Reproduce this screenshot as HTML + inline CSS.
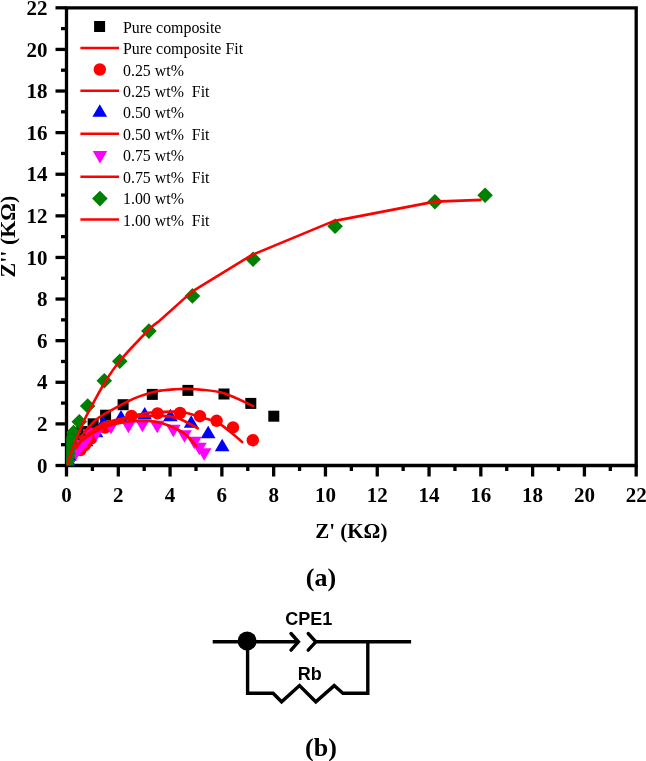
<!DOCTYPE html>
<html><head><meta charset="utf-8"><title>Nyquist plot</title>
<style>
html,body{margin:0;padding:0;background:#fff;}
body{width:646px;height:761px;overflow:hidden;}
svg{display:block;}
.tk{font-family:"Liberation Serif","Times New Roman",serif;font-weight:bold;font-size:21px;fill:#000;}
.cap{font-family:"Liberation Serif","Times New Roman",serif;font-weight:bold;font-size:26px;fill:#000;}
.lg{font-family:"Liberation Serif","Times New Roman",serif;font-size:15.9px;fill:#000;white-space:pre;}
.cl{font-family:"Liberation Sans",Arial,sans-serif;font-weight:bold;font-size:18px;fill:#000;}
</style></head>
<body>
<svg width="646" height="761" viewBox="0 0 646 761">
<g id="axes">
<path d="M66.5,7.8 H636.2 V465.5 H66.5 Z" stroke="#000" stroke-width="3.3" fill="none" stroke-linejoin="miter"/>
<line x1="66.50" y1="465.5" x2="66.50" y2="476.5" stroke="#000" stroke-width="3.3" fill="none"/>
<line x1="55.5" y1="465.50" x2="66.5" y2="465.50" stroke="#000" stroke-width="3.3" fill="none"/>
<line x1="92.40" y1="465.5" x2="92.40" y2="471.0" stroke="#000" stroke-width="3.3" fill="none"/>
<line x1="61.0" y1="444.70" x2="66.5" y2="444.70" stroke="#000" stroke-width="3.3" fill="none"/>
<line x1="118.29" y1="465.5" x2="118.29" y2="476.5" stroke="#000" stroke-width="3.3" fill="none"/>
<line x1="55.5" y1="423.89" x2="66.5" y2="423.89" stroke="#000" stroke-width="3.3" fill="none"/>
<line x1="144.19" y1="465.5" x2="144.19" y2="471.0" stroke="#000" stroke-width="3.3" fill="none"/>
<line x1="61.0" y1="403.09" x2="66.5" y2="403.09" stroke="#000" stroke-width="3.3" fill="none"/>
<line x1="170.08" y1="465.5" x2="170.08" y2="476.5" stroke="#000" stroke-width="3.3" fill="none"/>
<line x1="55.5" y1="382.28" x2="66.5" y2="382.28" stroke="#000" stroke-width="3.3" fill="none"/>
<line x1="195.98" y1="465.5" x2="195.98" y2="471.0" stroke="#000" stroke-width="3.3" fill="none"/>
<line x1="61.0" y1="361.48" x2="66.5" y2="361.48" stroke="#000" stroke-width="3.3" fill="none"/>
<line x1="221.87" y1="465.5" x2="221.87" y2="476.5" stroke="#000" stroke-width="3.3" fill="none"/>
<line x1="55.5" y1="340.67" x2="66.5" y2="340.67" stroke="#000" stroke-width="3.3" fill="none"/>
<line x1="247.77" y1="465.5" x2="247.77" y2="471.0" stroke="#000" stroke-width="3.3" fill="none"/>
<line x1="61.0" y1="319.87" x2="66.5" y2="319.87" stroke="#000" stroke-width="3.3" fill="none"/>
<line x1="273.66" y1="465.5" x2="273.66" y2="476.5" stroke="#000" stroke-width="3.3" fill="none"/>
<line x1="55.5" y1="299.06" x2="66.5" y2="299.06" stroke="#000" stroke-width="3.3" fill="none"/>
<line x1="299.56" y1="465.5" x2="299.56" y2="471.0" stroke="#000" stroke-width="3.3" fill="none"/>
<line x1="61.0" y1="278.26" x2="66.5" y2="278.26" stroke="#000" stroke-width="3.3" fill="none"/>
<line x1="325.45" y1="465.5" x2="325.45" y2="476.5" stroke="#000" stroke-width="3.3" fill="none"/>
<line x1="55.5" y1="257.45" x2="66.5" y2="257.45" stroke="#000" stroke-width="3.3" fill="none"/>
<line x1="351.35" y1="465.5" x2="351.35" y2="471.0" stroke="#000" stroke-width="3.3" fill="none"/>
<line x1="61.0" y1="236.65" x2="66.5" y2="236.65" stroke="#000" stroke-width="3.3" fill="none"/>
<line x1="377.25" y1="465.5" x2="377.25" y2="476.5" stroke="#000" stroke-width="3.3" fill="none"/>
<line x1="55.5" y1="215.85" x2="66.5" y2="215.85" stroke="#000" stroke-width="3.3" fill="none"/>
<line x1="403.14" y1="465.5" x2="403.14" y2="471.0" stroke="#000" stroke-width="3.3" fill="none"/>
<line x1="61.0" y1="195.04" x2="66.5" y2="195.04" stroke="#000" stroke-width="3.3" fill="none"/>
<line x1="429.04" y1="465.5" x2="429.04" y2="476.5" stroke="#000" stroke-width="3.3" fill="none"/>
<line x1="55.5" y1="174.24" x2="66.5" y2="174.24" stroke="#000" stroke-width="3.3" fill="none"/>
<line x1="454.93" y1="465.5" x2="454.93" y2="471.0" stroke="#000" stroke-width="3.3" fill="none"/>
<line x1="61.0" y1="153.43" x2="66.5" y2="153.43" stroke="#000" stroke-width="3.3" fill="none"/>
<line x1="480.83" y1="465.5" x2="480.83" y2="476.5" stroke="#000" stroke-width="3.3" fill="none"/>
<line x1="55.5" y1="132.63" x2="66.5" y2="132.63" stroke="#000" stroke-width="3.3" fill="none"/>
<line x1="506.72" y1="465.5" x2="506.72" y2="471.0" stroke="#000" stroke-width="3.3" fill="none"/>
<line x1="61.0" y1="111.82" x2="66.5" y2="111.82" stroke="#000" stroke-width="3.3" fill="none"/>
<line x1="532.62" y1="465.5" x2="532.62" y2="476.5" stroke="#000" stroke-width="3.3" fill="none"/>
<line x1="55.5" y1="91.02" x2="66.5" y2="91.02" stroke="#000" stroke-width="3.3" fill="none"/>
<line x1="558.51" y1="465.5" x2="558.51" y2="471.0" stroke="#000" stroke-width="3.3" fill="none"/>
<line x1="61.0" y1="70.21" x2="66.5" y2="70.21" stroke="#000" stroke-width="3.3" fill="none"/>
<line x1="584.41" y1="465.5" x2="584.41" y2="476.5" stroke="#000" stroke-width="3.3" fill="none"/>
<line x1="55.5" y1="49.41" x2="66.5" y2="49.41" stroke="#000" stroke-width="3.3" fill="none"/>
<line x1="610.30" y1="465.5" x2="610.30" y2="471.0" stroke="#000" stroke-width="3.3" fill="none"/>
<line x1="61.0" y1="28.60" x2="66.5" y2="28.60" stroke="#000" stroke-width="3.3" fill="none"/>
<line x1="636.20" y1="465.5" x2="636.20" y2="476.5" stroke="#000" stroke-width="3.3" fill="none"/>
<line x1="55.5" y1="7.80" x2="66.5" y2="7.80" stroke="#000" stroke-width="3.3" fill="none"/>
</g>
<defs><clipPath id="pc"><rect x="66.5" y="7.8" width="569.7" height="457.7"/></clipPath></defs>
<g id="data" clip-path="url(#pc)">
<rect x="66.5" y="441.5" width="11" height="11" fill="#000"/>
<rect x="71.0" y="434.5" width="11" height="11" fill="#000"/>
<rect x="76.3" y="426.0" width="11" height="11" fill="#000"/>
<rect x="87.6" y="418.3" width="11" height="11" fill="#000"/>
<rect x="100.1" y="409.7" width="11" height="11" fill="#000"/>
<rect x="117.6" y="399.2" width="11" height="11" fill="#000"/>
<rect x="146.8" y="388.9" width="11" height="11" fill="#000"/>
<rect x="182.4" y="384.9" width="11" height="11" fill="#000"/>
<rect x="218.5" y="388.5" width="11" height="11" fill="#000"/>
<rect x="245.3" y="397.9" width="11" height="11" fill="#000"/>
<rect x="268.3" y="410.7" width="11" height="11" fill="#000"/>
<polygon points="68.0,452.7 75.3,465.3 60.6,465.3" fill="#00f"/>
<polygon points="69.5,448.2 76.8,460.8 62.1,460.8" fill="#00f"/>
<polygon points="72.5,443.2 79.8,455.8 65.2,455.8" fill="#00f"/>
<polygon points="76.0,439.7 83.3,452.3 68.7,452.3" fill="#00f"/>
<polygon points="80.0,436.7 87.3,449.3 72.7,449.3" fill="#00f"/>
<polygon points="86.0,433.7 93.3,446.3 78.7,446.3" fill="#00f"/>
<polygon points="89.3,427.2 96.6,439.8 82.0,439.8" fill="#00f"/>
<polygon points="96.0,424.7 103.3,437.3 88.7,437.3" fill="#00f"/>
<polygon points="103.4,415.7 110.8,428.3 96.1,428.3" fill="#00f"/>
<polygon points="121.0,410.0 128.3,422.6 113.7,422.6" fill="#00f"/>
<polygon points="144.7,406.9 152.0,419.5 137.3,419.5" fill="#00f"/>
<polygon points="170.3,408.7 177.7,421.3 163.0,421.3" fill="#00f"/>
<polygon points="191.2,415.2 198.5,427.8 183.8,427.8" fill="#00f"/>
<polygon points="208.2,425.7 215.5,438.3 200.8,438.3" fill="#00f"/>
<polygon points="222.2,438.7 229.5,451.3 214.8,451.3" fill="#00f"/>
<circle cx="80.5" cy="450.0" r="6.2" fill="#f00"/>
<circle cx="85.0" cy="445.0" r="6.2" fill="#f00"/>
<circle cx="91.0" cy="438.5" r="6.2" fill="#f00"/>
<circle cx="105.0" cy="427.5" r="6.2" fill="#f00"/>
<circle cx="131.5" cy="416.0" r="6.2" fill="#f00"/>
<circle cx="157.5" cy="413.4" r="6.2" fill="#f00"/>
<circle cx="180.0" cy="413.0" r="6.2" fill="#f00"/>
<circle cx="199.9" cy="416.2" r="6.2" fill="#f00"/>
<circle cx="216.6" cy="420.8" r="6.2" fill="#f00"/>
<circle cx="233.0" cy="427.4" r="6.2" fill="#f00"/>
<circle cx="252.8" cy="440.2" r="6.2" fill="#f00"/>
<polygon points="68.7,447.7 83.3,447.7 76.0,460.3" fill="#f0f"/>
<polygon points="71.7,443.7 86.3,443.7 79.0,456.3" fill="#f0f"/>
<polygon points="74.7,439.7 89.3,439.7 82.0,452.3" fill="#f0f"/>
<polygon points="78.2,435.7 92.9,435.7 85.6,448.3" fill="#f0f"/>
<polygon points="82.2,429.2 96.8,429.2 89.5,441.8" fill="#f0f"/>
<polygon points="89.4,427.8 104.0,427.8 96.7,440.4" fill="#f0f"/>
<polygon points="103.7,421.7 118.3,421.7 111.0,434.3" fill="#f0f"/>
<polygon points="121.1,420.7 135.8,420.7 128.4,433.3" fill="#f0f"/>
<polygon points="135.1,419.7 149.8,419.7 142.4,432.3" fill="#f0f"/>
<polygon points="149.8,420.7 164.5,420.7 157.2,433.3" fill="#f0f"/>
<polygon points="166.0,424.7 180.7,424.7 173.3,437.3" fill="#f0f"/>
<polygon points="177.2,430.2 191.8,430.2 184.5,442.8" fill="#f0f"/>
<polygon points="187.0,436.7 201.7,436.7 194.3,449.3" fill="#f0f"/>
<polygon points="192.0,442.7 206.7,442.7 199.3,455.3" fill="#f0f"/>
<polygon points="196.8,448.2 211.5,448.2 204.2,460.8" fill="#f0f"/>
<polygon points="67.2,457.7 75.0,465.5 67.2,473.3 59.4,465.5" fill="#008000"/>
<polygon points="67.4,453.7 75.2,461.5 67.4,469.3 59.6,461.5" fill="#008000"/>
<polygon points="67.7,449.7 75.5,457.5 67.7,465.3 59.9,457.5" fill="#008000"/>
<polygon points="68.0,445.7 75.8,453.5 68.0,461.3 60.2,453.5" fill="#008000"/>
<polygon points="68.3,441.7 76.1,449.5 68.3,457.3 60.5,449.5" fill="#008000"/>
<polygon points="68.8,437.7 76.6,445.5 68.8,453.3 61.0,445.5" fill="#008000"/>
<polygon points="69.8,434.2 77.6,442.0 69.8,449.8 62.0,442.0" fill="#008000"/>
<polygon points="71.0,430.7 78.8,438.5 71.0,446.3 63.2,438.5" fill="#008000"/>
<polygon points="73.6,424.7 81.4,432.5 73.6,440.3 65.8,432.5" fill="#008000"/>
<polygon points="79.3,414.0 87.1,421.8 79.3,429.6 71.5,421.8" fill="#008000"/>
<polygon points="87.7,398.2 95.5,406.0 87.7,413.8 79.9,406.0" fill="#008000"/>
<polygon points="104.3,372.9 112.1,380.7 104.3,388.5 96.5,380.7" fill="#008000"/>
<polygon points="119.8,353.5 127.6,361.3 119.8,369.1 112.0,361.3" fill="#008000"/>
<polygon points="148.9,323.3 156.7,331.1 148.9,338.9 141.1,331.1" fill="#008000"/>
<polygon points="192.4,288.1 200.2,295.9 192.4,303.7 184.6,295.9" fill="#008000"/>
<polygon points="253.1,251.4 260.9,259.2 253.1,267.0 245.3,259.2" fill="#008000"/>
<polygon points="335.1,218.4 342.9,226.2 335.1,234.0 327.3,226.2" fill="#008000"/>
<polygon points="434.9,194.0 442.7,201.8 434.9,209.6 427.1,201.8" fill="#008000"/>
<polygon points="485.1,187.5 492.9,195.3 485.1,203.1 477.3,195.3" fill="#008000"/>
<path d="M79.0,438.5 C79.6,437.9 80.9,436.7 82.5,434.8 C84.1,432.9 86.0,430.1 88.6,427.3 C91.2,424.6 94.0,421.2 97.9,418.3 C101.8,415.4 107.5,412.4 112.0,409.8 C116.5,407.2 120.5,405.0 125.0,402.8 C129.6,400.6 134.0,398.3 139.3,396.4 C144.7,394.5 151.2,392.4 157.1,391.2 C163.0,390.0 169.7,389.6 175.0,389.2 C180.3,388.8 184.9,388.8 189.1,388.9 C193.3,389.0 194.2,388.9 200.0,389.6 C205.8,390.3 215.0,390.5 224.0,393.3 C233.0,396.1 249.2,404.3 254.2,406.5" fill="none" stroke="#f00" stroke-width="2.6" stroke-linejoin="round" stroke-linecap="butt"/>
<path d="M75.5,447.5 C76.2,446.5 78.2,443.6 80.0,441.6 C81.8,439.7 84.0,437.7 86.0,435.8 C88.0,433.9 89.7,432.2 92.0,430.5 C94.3,428.8 97.7,426.8 100.0,425.5 C102.3,424.2 102.2,423.8 106.0,422.6 C109.8,421.4 117.2,419.7 122.9,418.3 C128.6,416.9 134.8,415.3 140.0,414.3 C145.2,413.3 147.7,412.7 154.4,412.3 C161.1,411.9 173.2,411.3 180.0,411.8 C186.8,412.3 189.0,413.8 195.0,415.5 C201.0,417.2 210.1,419.1 215.9,421.8 C221.7,424.5 225.3,428.0 229.8,431.5 C234.3,435.0 240.8,440.8 243.0,442.7" fill="none" stroke="#f00" stroke-width="2.6" stroke-linejoin="round" stroke-linecap="butt"/>
<path d="M75.5,448.0 C76.2,447.0 78.2,444.0 80.0,442.2 C81.8,440.4 83.9,438.6 86.0,437.0 C88.1,435.4 90.1,434.2 92.4,432.8 C94.7,431.4 97.4,429.6 100.0,428.3 C102.6,427.0 104.6,426.1 107.9,424.8 C111.2,423.5 114.7,421.9 120.0,420.5 C125.3,419.1 132.8,417.3 140.0,416.5 C147.2,415.7 156.6,415.5 163.3,415.9 C170.0,416.3 174.1,416.8 180.0,419.0 C185.9,421.2 195.7,427.2 198.8,428.9" fill="none" stroke="#f00" stroke-width="2.6" stroke-linejoin="round" stroke-linecap="butt"/>
<path d="M75.5,448.5 C76.2,447.6 78.2,444.7 80.0,442.9 C81.8,441.1 83.9,439.4 86.0,437.8 C88.1,436.2 90.1,435.0 92.4,433.6 C94.7,432.2 97.4,430.7 100.0,429.4 C102.6,428.1 104.6,427.1 107.9,426.0 C111.2,424.9 116.0,423.8 120.0,423.0 C124.0,422.2 128.0,421.5 132.1,421.2 C136.2,420.9 141.0,420.9 144.8,421.0 C148.6,421.1 150.8,420.8 155.0,421.6 C159.2,422.4 165.0,423.9 170.0,426.0 C175.0,428.1 180.5,430.5 185.0,434.0 C189.5,437.5 194.8,444.8 196.8,446.9" fill="none" stroke="#f00" stroke-width="2.6" stroke-linejoin="round" stroke-linecap="butt"/>
<path d="M66.8,465.5 C67.2,464.4 68.2,461.2 68.9,459.0 C69.6,456.8 70.5,454.5 71.2,452.5 C71.9,450.5 72.7,448.7 73.3,447.0 C73.9,445.3 74.0,444.8 74.9,442.5 C75.8,440.2 77.0,437.1 78.6,433.3 C80.2,429.5 82.4,424.1 84.6,419.5 C86.8,414.9 88.7,411.5 92.0,405.5 C95.3,399.5 99.6,390.9 104.2,383.5 C108.8,376.1 112.4,369.9 119.8,361.0 C127.2,352.1 142.1,336.6 148.6,330.0 C155.1,323.4 157.3,322.7 159.0,321.2 L192.0,291.6 L251.6,255.2 L333.5,221.1 L434.9,201.6 L481.6,199.9" fill="none" stroke="#f00" stroke-width="2.6" stroke-linejoin="round" stroke-linecap="butt"/>
</g>

<g id="labels">
<text x="66.50" y="501.5" text-anchor="middle" class="tk">0</text>
<text x="47.6" y="472.60" text-anchor="end" class="tk">0</text>
<text x="118.29" y="501.5" text-anchor="middle" class="tk">2</text>
<text x="47.6" y="430.99" text-anchor="end" class="tk">2</text>
<text x="170.08" y="501.5" text-anchor="middle" class="tk">4</text>
<text x="47.6" y="389.38" text-anchor="end" class="tk">4</text>
<text x="221.87" y="501.5" text-anchor="middle" class="tk">6</text>
<text x="47.6" y="347.77" text-anchor="end" class="tk">6</text>
<text x="273.66" y="501.5" text-anchor="middle" class="tk">8</text>
<text x="47.6" y="306.16" text-anchor="end" class="tk">8</text>
<text x="325.45" y="501.5" text-anchor="middle" class="tk">10</text>
<text x="47.6" y="264.55" text-anchor="end" class="tk">10</text>
<text x="377.25" y="501.5" text-anchor="middle" class="tk">12</text>
<text x="47.6" y="222.95" text-anchor="end" class="tk">12</text>
<text x="429.04" y="501.5" text-anchor="middle" class="tk">14</text>
<text x="47.6" y="181.34" text-anchor="end" class="tk">14</text>
<text x="480.83" y="501.5" text-anchor="middle" class="tk">16</text>
<text x="47.6" y="139.73" text-anchor="end" class="tk">16</text>
<text x="532.62" y="501.5" text-anchor="middle" class="tk">18</text>
<text x="47.6" y="98.12" text-anchor="end" class="tk">18</text>
<text x="584.41" y="501.5" text-anchor="middle" class="tk">20</text>
<text x="47.6" y="56.51" text-anchor="end" class="tk">20</text>
<text x="636.20" y="501.5" text-anchor="middle" class="tk">22</text>
<text x="47.6" y="14.90" text-anchor="end" class="tk">22</text>
<text x="351.3" y="538" text-anchor="middle" class="tk">Z' (K&#937;)</text>
<text transform="translate(15,236.6) rotate(-90)" text-anchor="middle" class="tk" style="font-size:22px">Z'' (K&#937;)</text>
<text x="321" y="586" text-anchor="middle" class="cap">(a)</text>
<text x="321" y="755.7" text-anchor="middle" class="cap">(b)</text>
</g>
<g id="legend">
<text x="123" y="32.6" class="lg">Pure composite</text>
<line x1="80.4" y1="48.0" x2="119.1" y2="48.0" stroke="#f00" stroke-width="2.6"/>
<text x="123" y="54.1" class="lg">Pure composite Fit</text>
<text x="123" y="75.5" class="lg">0.25 wt%</text>
<line x1="80.4" y1="90.8" x2="119.1" y2="90.8" stroke="#f00" stroke-width="2.6"/>
<text x="123" y="96.9" class="lg">0.25 wt%  Fit</text>
<text x="123" y="118.4" class="lg">0.50 wt%</text>
<line x1="80.4" y1="133.8" x2="119.1" y2="133.8" stroke="#f00" stroke-width="2.6"/>
<text x="123" y="139.8" class="lg">0.50 wt%  Fit</text>
<text x="123" y="161.3" class="lg">0.75 wt%</text>
<line x1="80.4" y1="176.7" x2="119.1" y2="176.7" stroke="#f00" stroke-width="2.6"/>
<text x="123" y="182.8" class="lg">0.75 wt%  Fit</text>
<text x="123" y="204.2" class="lg">1.00 wt%</text>
<line x1="80.4" y1="219.5" x2="119.1" y2="219.5" stroke="#f00" stroke-width="2.6"/>
<text x="123" y="225.6" class="lg">1.00 wt%  Fit</text>
<rect x="94.1" y="21.0" width="11" height="11" fill="#000"/>
<circle cx="99.8" cy="69.5" r="6.2" fill="#f00"/>
<polygon points="99.8,104.2 107.1,116.8 92.4,116.8" fill="#00f"/>
<polygon points="92.7,150.9 107.3,150.9 100.0,163.5" fill="#f0f"/>
<polygon points="99.9,190.8 107.7,198.6 99.9,206.4 92.1,198.6" fill="#008000"/>
</g>
<g id="circuit">
<line x1="212.7" y1="641.8" x2="299" y2="641.8" stroke="#000" stroke-width="3.4" fill="none" stroke-linejoin="miter"/>
<line x1="315.5" y1="641.8" x2="411.1" y2="641.8" stroke="#000" stroke-width="3.4" fill="none" stroke-linejoin="miter"/>
<polyline points="291,633.5 298.4,641.8 291,650.1" stroke="#000" stroke-width="3.4" fill="none" stroke-linejoin="miter" stroke-linecap="round"/>
<polyline points="308.2,633.5 315.8,641.8 308.2,650.1" stroke="#000" stroke-width="3.4" fill="none" stroke-linejoin="miter" stroke-linecap="round"/>
<polyline points="247.6,641 247.6,693.3 273.1,693.3 281.6,701.8 299.5,685.6 315.8,701.8 334.2,685.6 342.9,693.3 367.8,693.3 367.8,641.8" stroke="#000" stroke-width="3.4" fill="none" stroke-linejoin="miter"/>
<circle cx="247.1" cy="641" r="9.5" fill="#000"/>
<text x="308.8" y="624.5" text-anchor="middle" class="cl">CPE1</text>
<text x="309.7" y="680.1" text-anchor="middle" class="cl">Rb</text>
</g>
</svg>
</body></html>
